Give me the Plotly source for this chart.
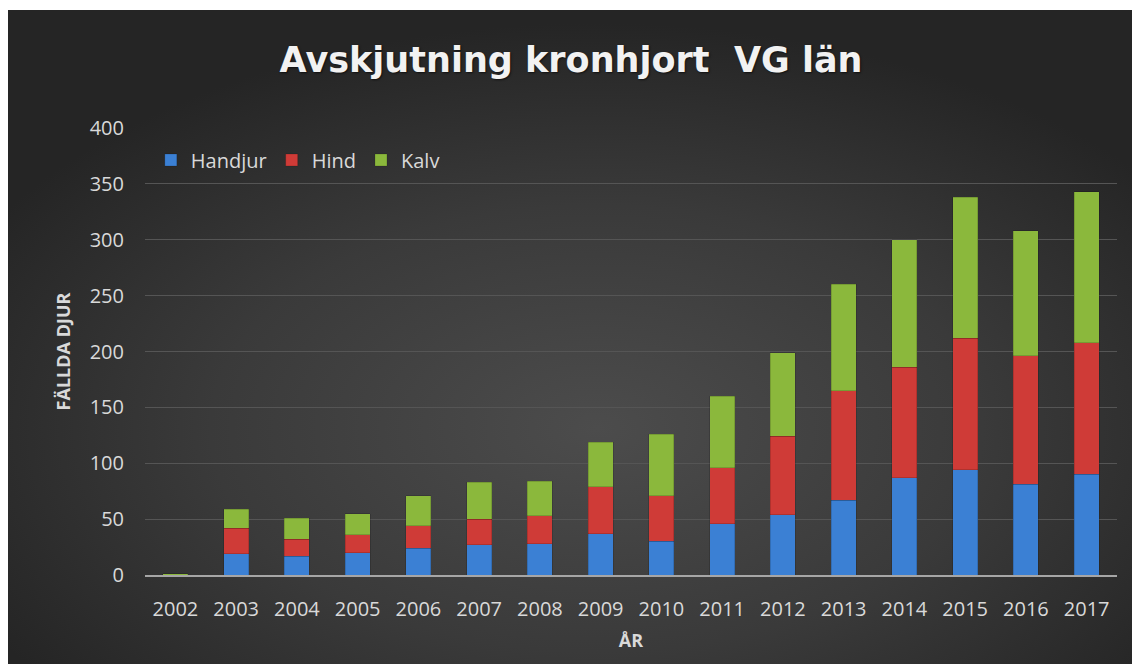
import base64
import plotly.graph_objects as go

years = ["2002", "2003", "2004", "2005", "2006", "2007", "2008", "2009",
         "2010", "2011", "2012", "2013", "2014", "2015", "2016", "2017"]
handjur = [0, 19, 17, 20, 24, 27, 28, 37, 30, 46, 54, 67, 87, 94, 81, 90]
hind = [0, 23, 15, 16, 20, 23, 25, 42, 41, 50, 70, 98, 99, 118, 115, 118]
kalv = [1, 17, 19, 19, 27, 33, 31, 40, 55, 64, 75, 95, 114, 126, 112, 135]

series_names = ["Handjur", "Hind", "Kalv"]
series_colors = ["#3b80d4", "#cf3b37", "#8bb83c"]
y_ticks = [0, 50, 100, 150, 200, 250, 300, 350, 400]

W, H = 1132, 656
L, R, T, B = 137, 23, 120, 89
pw, ph = W - L - R, H - T - B
TOPGAP = 2

svg = (
    '<svg xmlns="http://www.w3.org/2000/svg" width="1132" height="654" '
    'viewBox="0 0 1132 654" preserveAspectRatio="none">'
    '<defs><radialGradient id="g" cx="52%" cy="64%" r="62%">'
    '<stop offset="0%" stop-color="#4c4c4c"/>'
    '<stop offset="55%" stop-color="#3a3a3a"/>'
    '<stop offset="100%" stop-color="#252525"/>'
    '</radialGradient></defs>'
    '<rect width="1132" height="654" fill="url(#g)"/></svg>'
)
bg_uri = "data:image/svg+xml;base64," + base64.b64encode(svg.encode()).decode()

fig = go.Figure()
for name, vals, col in zip(series_names, [handjur, hind, kalv], series_colors):
    fig.add_trace(go.Bar(
        x=years, y=vals, name=name,
        marker=dict(color=col, line=dict(color="rgba(0,0,0,0.25)", width=0.6)),
    ))

fig.add_layout_image(dict(
    source=bg_uri, xref="paper", yref="paper",
    x=-L / pw, y=(H - B - TOPGAP) / ph,
    sizex=W / pw, sizey=(H - TOPGAP) / ph,
    sizing="stretch", xanchor="left", yanchor="top", layer="below",
))

fig.update_layout(
    width=W, height=H,
    margin=dict(l=L, r=R, t=T, b=B),
    paper_bgcolor="white",
    plot_bgcolor="rgba(0,0,0,0)",
    barmode="stack",
    bargap=0.59,
    font=dict(family="Open Sans, Lato, sans-serif", color="#d9d9d9", size=20),
    title=dict(
        text="<b>Avskjutning kronhjort&nbsp;&nbsp;VG län</b>",
        x=563 / W, xanchor="center", xref="container",
        y=1 - 52 / H, yanchor="middle", yref="container",
        font=dict(family="DejaVu Sans, sans-serif", size=35, color="#f2f2f2",
                  shadow="1px 1px 2px rgba(0,0,0,0.6)"),
    ),
    legend=dict(
        orientation="h", x=0.006, xanchor="left", y=(H - B - 152) / ph, yanchor="middle",
        bgcolor="rgba(0,0,0,0)", font=dict(size=20, color="#d9d9d9"),
        traceorder="normal", itemwidth=30,
    ),
    xaxis=dict(
        showgrid=False, showline=True, linecolor="#a6a6a6", linewidth=2,
        tickfont=dict(size=20, color="#d9d9d9"), ticks="", ticklabelstandoff=15,
        title=dict(text="<b>ÅR</b>", font=dict(size=18, color="#d9d9d9"), standoff=13),
        fixedrange=True,
    ),
    yaxis=dict(
        range=[0, 400], tickvals=y_ticks, showgrid=True, gridcolor="#555555",
        gridwidth=1, zeroline=False, showline=False, ticks="",
        tickfont=dict(size=20, color="#d9d9d9"), ticklabelstandoff=20,
        title=dict(text="<b>FÄLLDA DJUR</b>", font=dict(size=18, color="#d9d9d9"), standoff=14),
        fixedrange=True,
    ),
)

fig.write_html("out.html")
